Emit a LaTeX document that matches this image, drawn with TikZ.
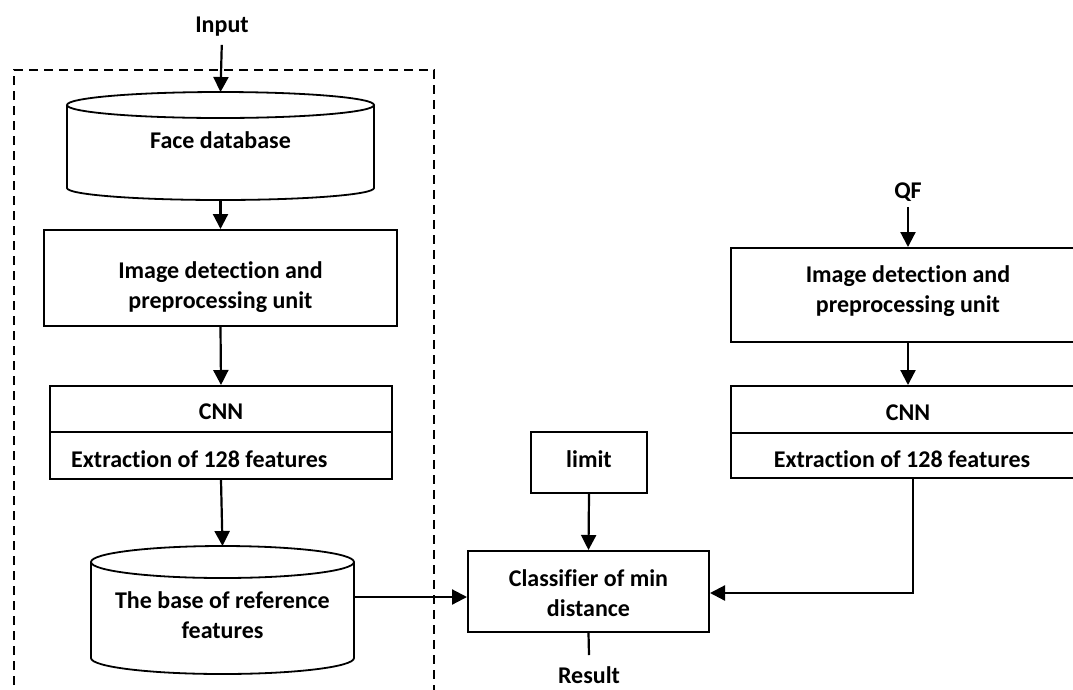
\documentclass[tikz,border=0pt]{standalone}
\usepackage{fontspec}
\setmainfont{Carlito}[Ligatures={NoCommon}]
\usetikzlibrary{arrows.meta}
\begin{document}
\begin{tikzpicture}[x=1pt,y=-1pt,
  box/.style={draw, line width=2pt, inner sep=0pt},
  cyl/.style={line width=1.8pt},
  lbl/.style={font=\fontsize{24}{30}\selectfont\bfseries, align=center},
  arr/.style={-{Triangle[width=15pt,length=15pt]}, line width=2.2pt},
  plain/.style={line width=2.2pt},
  dashbox/.style={dash pattern=on 9pt off 6pt, line width=1.8pt}]
\useasboundingbox (0,0) rectangle (1073,689);

% dashed enclosure
\draw[dashbox] (14,700) -- (14,70) -- (434,70) -- (434,700);

% ---- left column ----
\node[lbl, inner sep=0pt] (in) at (222,27) {Input};

% Face database cylinder
\coordinate (fdbtop) at (220.5,92);
\coordinate (fdbbot) at (220.5,200);
\draw[cyl] (220.5,105) ellipse [x radius=153.5, y radius=13];
\draw[cyl] (67,105) -- (67,188) arc[start angle=180, end angle=0, x radius=153.5, y radius=12] -- (374,105);
\node[lbl] (fdb) at (220.5,140) {Face database};

\node[box, minimum width=353pt, minimum height=96pt] (l1) at (220.5,278) {};
\node[lbl] (l1t) at (220.5,287) {Image detection and\\preprocessing unit};

\node[box, minimum width=342pt, minimum height=93pt] (lcnn) at (221,432.5) {};
\draw[line width=1.8pt] (lcnn.west |- 0,432) -- (lcnn.east |- 0,432);
\node[lbl] (lcnnt) at (221,412) {CNN};
\node[lbl, anchor=west, inner sep=0pt] (lext) at (71,459) {Extraction of 128 features};

% reference features cylinder
\coordinate (rbtop) at (222.5,546);
\coordinate (rbr) at (354,597);
\draw[cyl] (222.5,562) ellipse [x radius=131.5, y radius=16];
\draw[cyl] (91,562) -- (91,658) arc[start angle=180, end angle=0, x radius=131.5, y radius=16] -- (354,562);
\node[lbl] (rb) at (222.5,615) {The base of reference\\features};

% ---- middle ----
\node[box, minimum width=116pt, minimum height=61pt] (limit) at (589,462.5) {};
\node[lbl] (limitt) at (589,459) {limit};
\node[box, minimum width=241pt, minimum height=81pt] (cls) at (588.5,591.5) {};
\node[lbl] (clst) at (588.5,593.5) {Classifier of min\\distance};
\coordinate (resend) at (589,655);
\node[lbl, inner sep=0pt] (res) at (589,675) {Result};

% ---- right column ----
\node[lbl] (qf) at (908,192) {QF};
\node[box, minimum width=354pt, minimum height=94pt] (r1) at (908,295) {};
\node[lbl] (r1t) at (908,291.5) {Image detection and\\preprocessing unit};
\node[box, minimum width=354pt, minimum height=92pt] (rcnn) at (908,432) {};
\draw[line width=1.8pt] (rcnn.west |- 0,433) -- (rcnn.east |- 0,433);
\node[lbl] (rcnnt) at (908,413) {CNN};
\node[lbl] (rext) at (902,459) {Extraction of 128 features};
\coordinate (rturn) at (913,593);

% ---- connectors ----
\draw[arr, shorten <=8pt] (in.south) -- (fdbtop);
\draw[arr] (fdbbot) -- (l1.north);
\draw[arr] (l1.south) -- (lcnn.north);
\draw[arr] (lcnn.south) -- (rbtop);
\draw[arr] (rbr) -- (rbr -| cls.west);
\draw[arr] (limit.south) -- (cls.north);
\draw[plain] (cls.south) -- (resend);
\draw[arr, shorten <=2pt] (qf.south) -- (r1.north);
\draw[arr] (r1.south) -- (rcnn.north);
\draw[arr] (rcnn.south -| rturn) -- (rturn) -- (rturn -| cls.east);
\end{tikzpicture}
\end{document}
